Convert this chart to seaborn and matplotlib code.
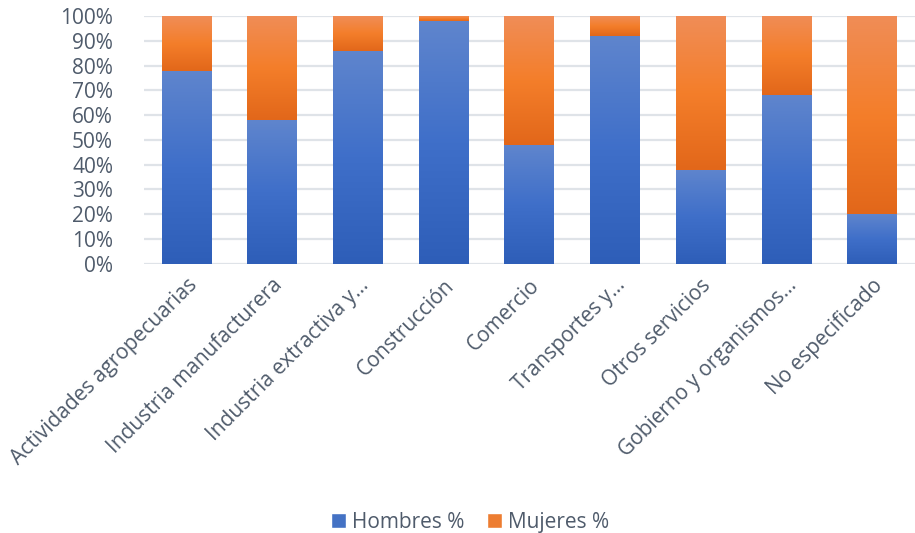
import numpy as np
import pandas as pd
import matplotlib
matplotlib.use("Agg")
import matplotlib.pyplot as plt
import matplotlib.colors as mcolors
from matplotlib.patches import Patch
from matplotlib.ticker import PercentFormatter
import seaborn as sns

categories = ["Actividades agropecuarias", "Industria manufacturera", "Industria extractiva y…",
              "Construcción", "Comercio", "Transportes y…", "Otros servicios",
              "Gobierno y organismos…", "No especificado"]
hombres = [78, 58, 86, 98, 48, 92, 38, 68, 20]
mujeres = [22, 42, 14, 2, 52, 8, 62, 32, 80]

sns.set_theme(style="white")
plt.rcParams['font.family'] = ['Open Sans', 'DejaVu Sans']
TXT = "#4f5b6b"
FS = 15

df = pd.DataFrame({"cat": categories, "Hombres %": hombres, "Mujeres %": mujeres})
df["total"] = df["Hombres %"] + df["Mujeres %"]

fig = plt.figure(figsize=(9.15, 5.33), dpi=100)
ax = fig.add_axes([0.157, 0.505, 0.843, 0.465])

sns.barplot(data=df, x="cat", y="total", color="#f47e2a", width=0.58, ax=ax, saturation=1)
n_or = len(ax.patches)
sns.barplot(data=df, x="cat", y="Hombres %", color="#4472c4", width=0.58, ax=ax, saturation=1)

blue_cmap = mcolors.LinearSegmentedColormap.from_list("b", ["#2e5eb8", "#3f6fc9", "#5f85cd"])
or_cmap = mcolors.LinearSegmentedColormap.from_list("o", ["#e2671a", "#f47e2a", "#f08d57"])
grad = np.linspace(0, 1, 256).reshape(-1, 1)

for i, p in enumerate(ax.patches):
    x0, y0 = p.get_x(), p.get_y()
    w, h = p.get_width(), p.get_height()
    if i < n_or:
        bottom = hombres[i]
        cmap = or_cmap
    else:
        bottom = 0
        cmap = blue_cmap
    top = y0 + h
    im = ax.imshow(grad, extent=[x0, x0 + w, bottom, top], origin="lower", cmap=cmap,
                   aspect="auto", zorder=p.get_zorder(), interpolation="bicubic")
    im.set_clip_path(p)
    p.set_facecolor("none")
    p.set_edgecolor("none")

ax.set_xlim(-0.5, len(categories) - 0.5)
ax.set_ylim(0, 100)
ax.set_yticks(np.arange(0, 101, 10))
ax.yaxis.set_major_formatter(PercentFormatter(100, decimals=0))
ax.grid(axis="y", color="#dfe3e8", linewidth=1.6)
ax.set_axisbelow(True)
for s in ax.spines.values():
    s.set_visible(False)
ax.set_xlabel("")
ax.set_ylabel("")
ax.tick_params(axis="y", labelsize=FS, colors=TXT, length=0, pad=22)
ax.tick_params(axis="x", labelsize=FS, colors=TXT, length=0, pad=8)
plt.setp(ax.get_xticklabels(), rotation=45, ha="right", rotation_mode="anchor")

handles = [Patch(facecolor="#4472c4", label="Hombres %"), Patch(facecolor="#ed7d31", label="Mujeres %")]
fig.legend(handles=handles, loc="lower center", bbox_to_anchor=(0.514, -0.035), ncol=2, frameon=False,
           fontsize=FS, labelcolor=TXT, handlelength=0.7, handleheight=0.7, handletextpad=0.3,
           columnspacing=1.1)

fig.savefig("out.png", dpi=100)
